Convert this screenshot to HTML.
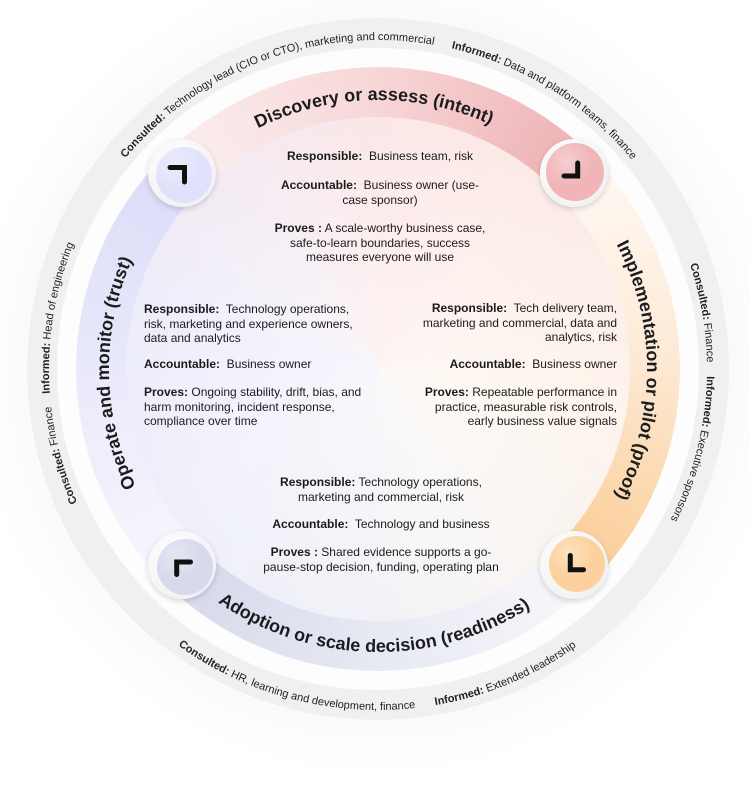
<!DOCTYPE html>
<html>
<head>
<meta charset="utf-8">
<style>
  html,body{margin:0;padding:0;background:#fff;}
  body{width:750px;height:795px;overflow:hidden;position:relative;font-family:"Liberation Sans",sans-serif;color:#1b1b1b;}
  .abs{position:absolute;}
  .halo{left:27px;top:18px;width:702px;height:702px;border-radius:50%;box-shadow:0 0 55px 14px rgba(110,110,110,0.05);}
  .gray{left:27px;top:18px;width:702px;height:702px;border-radius:50%;background:#eff1f0;}
  .gap{left:57px;top:48px;width:642px;height:642px;border-radius:50%;background:#fdfdfd;}
  .band{left:76px;top:67px;width:604px;height:604px;border-radius:50%;
    background:conic-gradient(from -45deg,
      #fcefef 0deg, #f7d6d7 45deg, #eeb0b3 90deg,
      #fff9f4 90deg, #fdebd8 130deg, #fbcc95 180deg,
      #f8f8fb 180deg, #e7e9f3 225deg, #d4d8ea 270deg,
      #f7f7fd 270deg, #e9e9fb 315deg, #dbdbf8 360deg);
    -webkit-mask-image:radial-gradient(circle at center, transparent 251px, #000 252px);
    mask-image:radial-gradient(circle at center, transparent 251px, #000 252px);}
  .inner{left:126px;top:117px;width:504px;height:504px;border-radius:50%;
    background:conic-gradient(from 0deg,
      #fbe7e7 0deg, #fcece7 55deg, #fdf3ea 100deg, #f7f4f3 150deg,
      #eff0f6 185deg, #edeef9 235deg, #ececfb 280deg, #f5eaf1 330deg, #fbe7e7 360deg);}
  .innerglow{left:126px;top:117px;width:504px;height:504px;border-radius:50%;
    background:radial-gradient(circle at 50% 55%, rgba(255,255,255,0.55) 0%, rgba(255,255,255,0.25) 45%, rgba(255,255,255,0) 72%);}
  .t{position:absolute;font-size:12px;line-height:14.5px;white-space:nowrap;color:#1b1b1b;}
  .t b{font-weight:700;}
  .c{text-align:center;}
  .r{text-align:right;}
</style>
</head>
<body>
<div class="abs halo"></div>
<div class="abs gray"></div>
<div class="abs gap"></div>
<div class="abs band"></div>
<div class="abs inner"></div>
<div class="abs innerglow"></div>

<!-- Top block -->
<div class="t c" style="left:230px;top:149px;width:300px;"><b>Responsible:</b>&nbsp; Business team, risk</div>
<div class="t c" style="left:230px;top:178px;width:300px;"><b>Accountable:</b>&nbsp; Business owner (use-<br>case sponsor)</div>
<div class="t c" style="left:230px;top:221px;width:300px;"><b>Proves :</b> A scale-worthy business case,<br>safe-to-learn boundaries, success<br>measures everyone will use</div>

<!-- Left block -->
<div class="t" style="left:144px;top:302px;"><b>Responsible:</b>&nbsp; Technology operations,<br>risk, marketing and experience owners,<br>data and analytics</div>
<div class="t" style="left:144px;top:357px;"><b>Accountable:</b>&nbsp; Business owner</div>
<div class="t" style="left:144px;top:385px;"><b>Proves:</b> Ongoing stability, drift, bias, and<br>harm monitoring, incident response,<br>compliance over time</div>

<!-- Right block -->
<div class="t r" style="left:367px;top:301px;width:250px;"><b>Responsible:</b>&nbsp; Tech delivery team,<br>marketing and commercial, data and<br>analytics, risk</div>
<div class="t r" style="left:367px;top:357px;width:250px;"><b>Accountable:</b>&nbsp; Business owner</div>
<div class="t r" style="left:367px;top:385px;width:250px;"><b>Proves:</b> Repeatable performance in<br>practice, measurable risk controls,<br>early business value signals</div>

<!-- Bottom block -->
<div class="t c" style="left:231px;top:475px;width:300px;"><b>Responsible:</b> Technology operations,<br>marketing and commercial, risk</div>
<div class="t c" style="left:231px;top:517px;width:300px;"><b>Accountable:</b>&nbsp; Technology and business</div>
<div class="t c" style="left:231px;top:545px;width:300px;"><b>Proves :</b> Shared evidence supports a go-<br>pause-stop decision, funding, operating plan</div>

<svg class="abs" style="left:0;top:0" width="750" height="795" viewBox="0 0 750 795">
  <defs>
    <path id="cw269" d="M378,638 A269,269 0 1 1 378,100 A269,269 0 1 1 378,638"/>
    <path id="cw329" d="M378,698 A329,329 0 1 1 378,40 A329,329 0 1 1 378,698"/>
    <path id="ccw283" d="M378,86 A283,283 0 1 0 378,652 A283,283 0 1 0 378,86"/>
    <path id="ccw341" d="M378,28 A341,341 0 1 0 378,710 A341,341 0 1 0 378,28"/>
    <filter id="sh" x="-40%" y="-40%" width="180%" height="180%">
      <feDropShadow dx="0" dy="2" stdDeviation="3" flood-color="#000" flood-opacity="0.16"/>
    </filter>
    <radialGradient id="wbtn" cx="40%" cy="35%" r="70%">
      <stop offset="0" stop-color="#ffffff"/>
      <stop offset="1" stop-color="#f1f1f3"/>
    </radialGradient>
    <radialGradient id="gl" cx="35%" cy="30%" r="75%">
      <stop offset="0" stop-color="#ffffff" stop-opacity="0.35"/>
      <stop offset="0.6" stop-color="#ffffff" stop-opacity="0"/>
    </radialGradient>
  </defs>

  <!-- Band titles -->
  <g font-family="Liberation Sans, sans-serif" font-weight="700" font-size="18" fill="#1c1c1e">
    <text><textPath href="#cw269" startOffset="840.4" text-anchor="middle">Discovery or assess (intent)</textPath></text>
    <text><textPath href="#cw269" startOffset="1268.6" text-anchor="middle">Implementation or pilot (proof)</textPath></text>
    <text><textPath href="#cw269" startOffset="417.9" text-anchor="middle">Operate and monitor (trust)</textPath></text>
    <text><textPath href="#ccw283" startOffset="884.1" text-anchor="middle">Adoption or scale decision (readiness)</textPath></text>
  </g>

  <!-- Outer ring labels -->
  <g font-family="Liberation Sans, sans-serif" font-size="11" fill="#222">
    <text><textPath href="#cw329" startOffset="917.3" text-anchor="middle"><tspan font-weight="700">Consulted:</tspan> Technology lead (CIO or CTO), marketing and commercial</textPath></text>
    <text><textPath href="#cw329" startOffset="1215.3" text-anchor="middle"><tspan font-weight="700">Informed:</tspan> Data and platform teams, finance</textPath></text>
    <text><textPath href="#cw329" startOffset="429.2" text-anchor="middle"><tspan font-weight="700">Consulted:</tspan> Finance</textPath></text>
    <text><textPath href="#cw329" startOffset="568.5" text-anchor="middle"><tspan font-weight="700">Informed:</tspan> Head of engineering</textPath></text>
    <text><textPath href="#cw329" startOffset="1493.2" text-anchor="middle"><tspan font-weight="700">Consulted:</tspan> Finance</textPath></text>
    <text><textPath href="#cw329" startOffset="1631.6" text-anchor="middle"><tspan font-weight="700">Informed:</tspan> Executive sponsors</textPath></text>
    <text><textPath href="#ccw341" startOffset="983.2" text-anchor="middle"><tspan font-weight="700">Consulted:</tspan> HR, learning and development, finance</textPath></text>
    <text><textPath href="#ccw341" startOffset="1205.8" text-anchor="middle"><tspan font-weight="700">Informed:</tspan> Extended leadership</textPath></text>
  </g>

  <!-- Buttons -->
  <g>
    <circle cx="182" cy="173" r="34" fill="url(#wbtn)" filter="url(#sh)"/>
    <circle cx="184" cy="175" r="28" fill="#e1e1fb"/>
    <circle cx="184" cy="175" r="28" fill="url(#gl)"/>
    <path d="M170,167.5 H184.5 V182" fill="none" stroke="#111" stroke-width="5" stroke-linecap="round" stroke-linejoin="miter"/>
  </g>
  <g>
    <circle cx="574" cy="173" r="34" fill="url(#wbtn)" filter="url(#sh)"/>
    <circle cx="575" cy="172" r="29" fill="#f1b4b7"/>
    <circle cx="575" cy="172" r="29" fill="url(#gl)"/>
    <path d="M577.7,163 V176 H564" fill="none" stroke="#111" stroke-width="5" stroke-linecap="round" stroke-linejoin="miter"/>
  </g>
  <g>
    <circle cx="182" cy="565" r="34" fill="url(#wbtn)" filter="url(#sh)"/>
    <circle cx="185" cy="567" r="28" fill="#d6daec"/>
    <circle cx="185" cy="567" r="28" fill="url(#gl)"/>
    <path d="M176.7,574.5 V562 H190.5" fill="none" stroke="#111" stroke-width="5" stroke-linecap="round" stroke-linejoin="miter"/>
  </g>
  <g>
    <circle cx="574" cy="565" r="34" fill="url(#wbtn)" filter="url(#sh)"/>
    <circle cx="577" cy="564" r="28" fill="#fcd19d"/>
    <circle cx="577" cy="564" r="28" fill="url(#gl)"/>
    <path d="M570.3,555.5 V569.7 H583.5" fill="none" stroke="#111" stroke-width="5" stroke-linecap="round" stroke-linejoin="miter"/>
  </g>
</svg>
</body>
</html>
